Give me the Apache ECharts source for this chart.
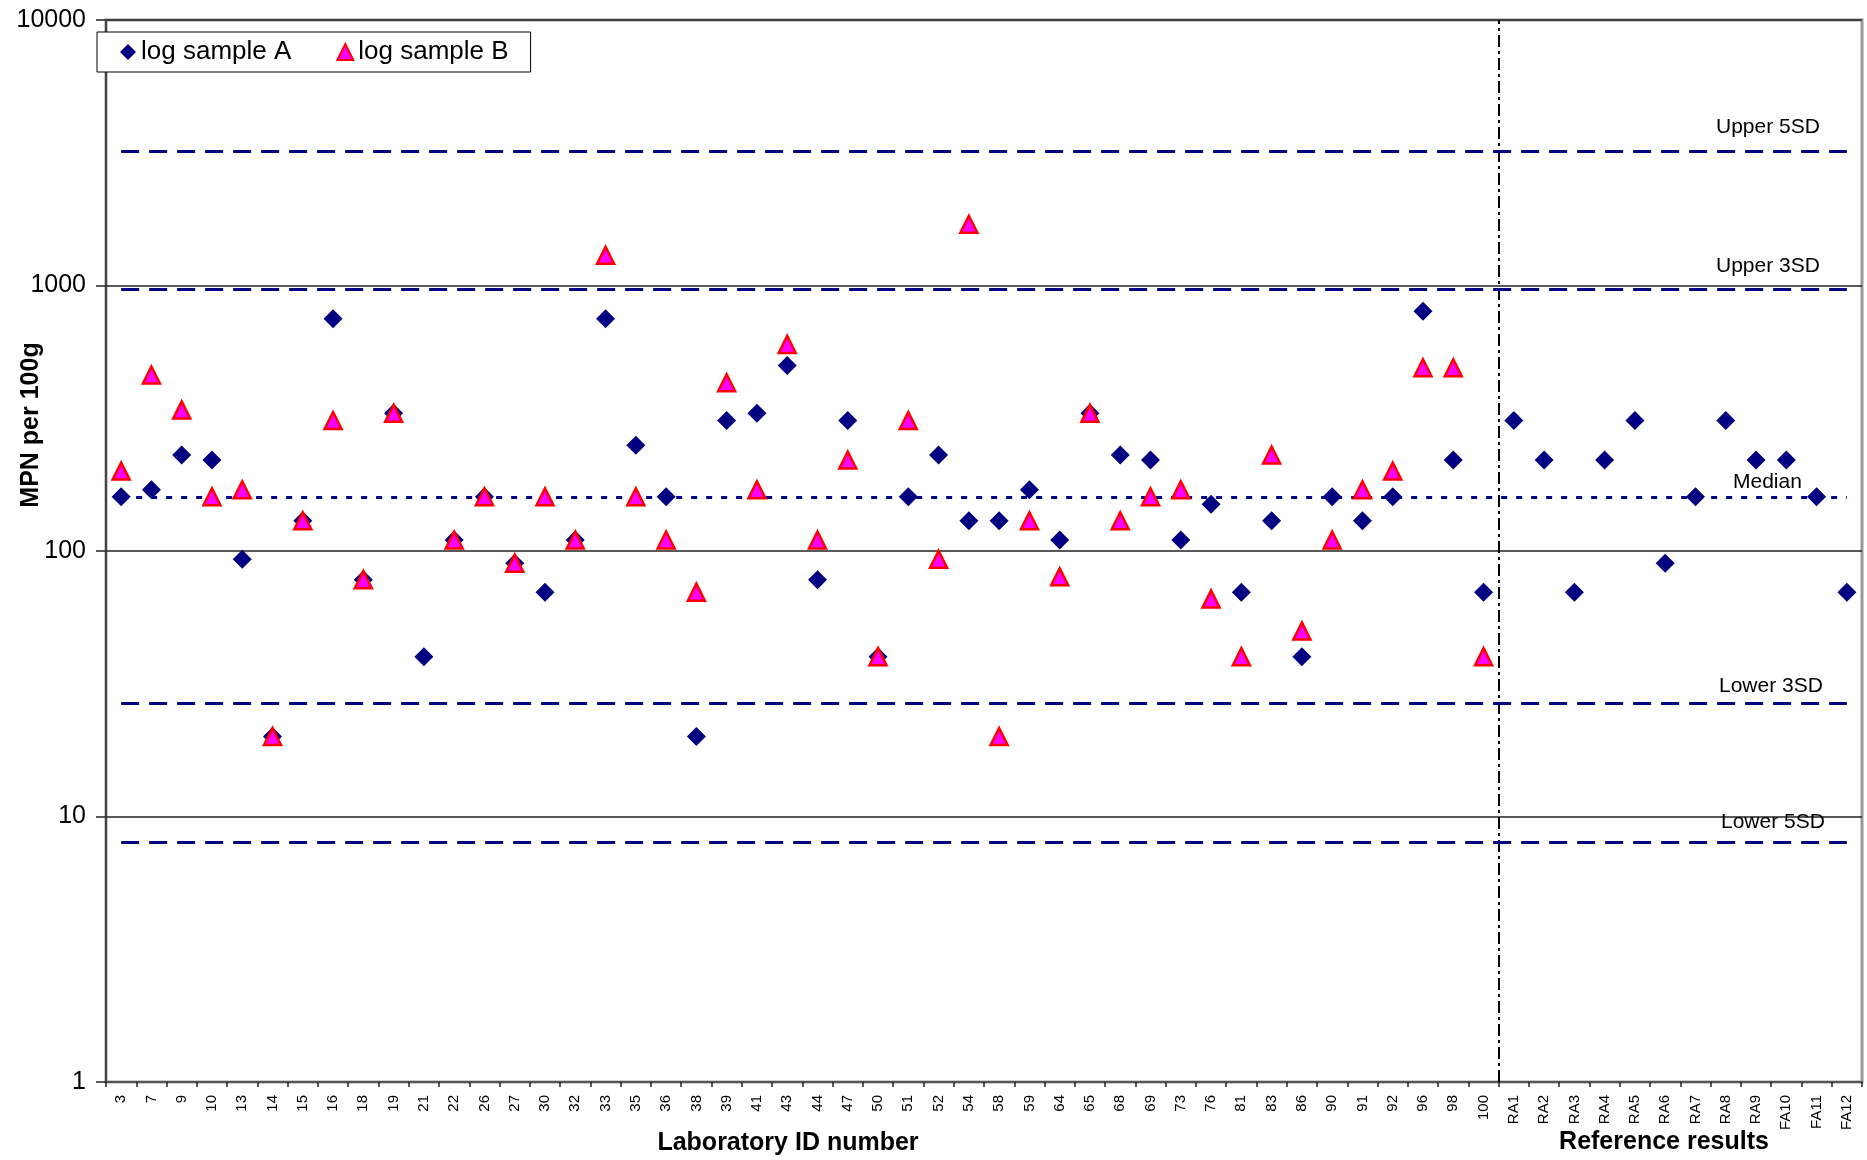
<!DOCTYPE html>
<html>
<head>
<meta charset="utf-8">
<title>MPN per 100g</title>
<script src="https://cdn.jsdelivr.net/npm/echarts@6/dist/echarts.min.js"></script>
<style>
  html, body { margin: 0; padding: 0; background: #fff; }
  #chart { width: 1867px; height: 1160px; }
</style>
</head>
<body>
<div id="chart"></div>
<script>
// laboratory IDs, then the reference results
var labIds = ['3', '7', '9', '10', '13', '14', '15', '16', '18', '19', '21', '22', '26', '27', '30', '32',
  '33', '35', '36', '38', '39', '41', '43', '44', '47', '50', '51', '52', '54', '58', '59', '64', '65', '68',
  '69', '73', '76', '81', '83', '86', '90', '91', '92', '96', '98', '100'];
var refIds = ['RA1', 'RA2', 'RA3', 'RA4', 'RA5', 'RA6', 'RA7', 'RA8', 'RA9', 'FA10', 'FA11', 'FA12'];

// MPN per 100g
var sampleA = [160, 170, 230, 220, 93, 20, 130, 750, 78, 330, 40, 110, 160, 90, 70, 110,
  750, 250, 160, 20, 310, 330, 500, 78, 310, 40, 160, 230, 130, 130, 170, 110, 330, 230,
  220, 110, 150, 70, 130, 40, 160, 130, 160, 800, 220, 70];
var refA = [310, 220, 70, 220, 310, 90, 160, 310, 220, 220, 160, 70];
var sampleB = [200, 460, 340, 160, 170, 20, 130, 310, 78, 330, null, 110, 160, 90, 160, 110,
  1300, 160, 110, 70, 430, 170, 600, 110, 220, 40, 310, 93, 1700, 20, 130, 80, 330, 130,
  160, 170, 66, 40, 230, 50, 110, 170, 200, 490, 490, 40];

// median and SD limits
var limitNames = ['Upper 5SD', 'Upper 3SD', 'Median', 'Lower 3SD', 'Lower 5SD'];
var limitValues = [3190, 965, 160, 26.6, 8.0];

var yTicks = [1, 10, 100, 1000, 10000];

var FONT = "'Liberation Sans', Arial, sans-serif";
var categories = labIds.concat(refIds);

var chartDom = document.getElementById('chart');
var myChart = echarts.init(chartDom);

// label spacing for each limit line: [from line end, above line]
var labelDist = [[27, 14], [27, 13], [45, 4], [24, 7], [22, 10]];

var limitLines = limitNames.map(function (name, i) {
  var isMedian = name === 'Median';
  return [
    {
      coord: [categories[0], limitValues[i]],
      lineStyle: {
        color: '#000080',
        width: 3,
        type: isMedian ? [6, 9] : [18, 10]
      },
      label: {
        show: true,
        formatter: name,
        position: 'insideEndTop',
        distance: labelDist[i],
        color: '#000',
        fontSize: 21,
        fontFamily: FONT
      }
    },
    { coord: [categories[categories.length - 1], limitValues[i]] }
  ];
});

var option = {
  animation: false,
  backgroundColor: '#fff',
  grid: {
    left: 106,
    right: 5,
    top: 20,
    bottom: 78,
    show: true,
    borderColor: '#999',
    borderWidth: 3,
    backgroundColor: '#fff'
  },
  legend: {
    data: ['log sample A', 'log sample B'],
    left: 97,
    top: 32,
    orient: 'horizontal',
    padding: [7, 22, 7, 23],
    itemGap: 45,
    itemWidth: 16,
    itemHeight: 16,
    borderColor: '#000',
    borderWidth: 1,
    borderRadius: 0,
    backgroundColor: '#fff',
    textStyle: {
      color: '#000',
      fontSize: 26,
      fontFamily: FONT
    }
  },
  xAxis: [
    {
      type: 'category',
      data: categories,
      boundaryGap: true,
      axisLine: { show: true, lineStyle: { color: '#555', width: 2 } },
      axisTick: { show: true, length: 5, lineStyle: { color: '#222', width: 1.5 } },
      axisLabel: {
        interval: 0,
        rotate: 90,
        margin: 13,
        color: '#000',
        fontSize: 15,
        fontFamily: FONT
      },
      splitLine: { show: false }
    },
    {
      // hidden helper axis used for the lab / reference separator
      type: 'value',
      min: 0,
      max: categories.length,
      show: false
    }
  ],
  yAxis: {
    type: 'log',
    logBase: 10,
    min: yTicks[0],
    max: yTicks[yTicks.length - 1],
    axisLine: { show: true, lineStyle: { color: '#444', width: 2 } },
    axisTick: { show: true, length: 10, lineStyle: { color: '#222', width: 1.5 } },
    axisLabel: {
      margin: 20,
      color: '#000',
      fontSize: 25,
      fontFamily: FONT,
      formatter: function (v) { return String(Math.round(v)); }
    },
    splitLine: { show: true, lineStyle: { color: '#222', width: 1.5 } }
  },
  graphic: [
    {
      type: 'text',
      x: 788,
      y: 1143,
      style: {
        text: 'Laboratory ID number',
        fill: '#000',
        font: 'bold 25px ' + FONT,
        textAlign: 'center',
        textVerticalAlign: 'middle'
      }
    },
    {
      type: 'text',
      x: 1664,
      y: 1142,
      style: {
        text: 'Reference results',
        fill: '#000',
        font: 'bold 25px ' + FONT,
        textAlign: 'center',
        textVerticalAlign: 'middle'
      }
    },
    {
      type: 'text',
      x: 31,
      y: 425,
      rotation: Math.PI / 2,
      style: {
        text: 'MPN per 100g',
        fill: '#000',
        font: 'bold 25px ' + FONT,
        textAlign: 'center',
        textVerticalAlign: 'middle'
      }
    }
  ],
  series: [
    {
      name: 'separator',
      type: 'scatter',
      xAxisIndex: 1,
      data: [],
      silent: true,
      markLine: {
        silent: true,
        z: 1,
        symbol: 'none',
        label: { show: false },
        lineStyle: { color: '#000', width: 2, type: [12, 4, 3, 4] },
        data: [{ xAxis: labIds.length }]
      }
    },
    {
      name: 'log sample A',
      type: 'scatter',
      symbol: 'diamond',
      symbolSize: 19,
      itemStyle: { color: '#000080', opacity: 1 },
      data: sampleA.concat(refA),
      z: 3,
      markLine: {
        silent: true,
        z: 1,
        symbol: 'none',
        data: limitLines
      }
    },
    {
      name: 'log sample B',
      type: 'scatter',
      symbol: 'triangle',
      symbolSize: 17,
      itemStyle: { color: '#ff00ff', borderColor: '#ff0000', borderWidth: 2.5, opacity: 1 },
      data: sampleB,
      z: 4
    }
  ]
};

myChart.setOption(option);
window.addEventListener('resize', function () {
  myChart.resize();
});
</script>
</body>
</html>
